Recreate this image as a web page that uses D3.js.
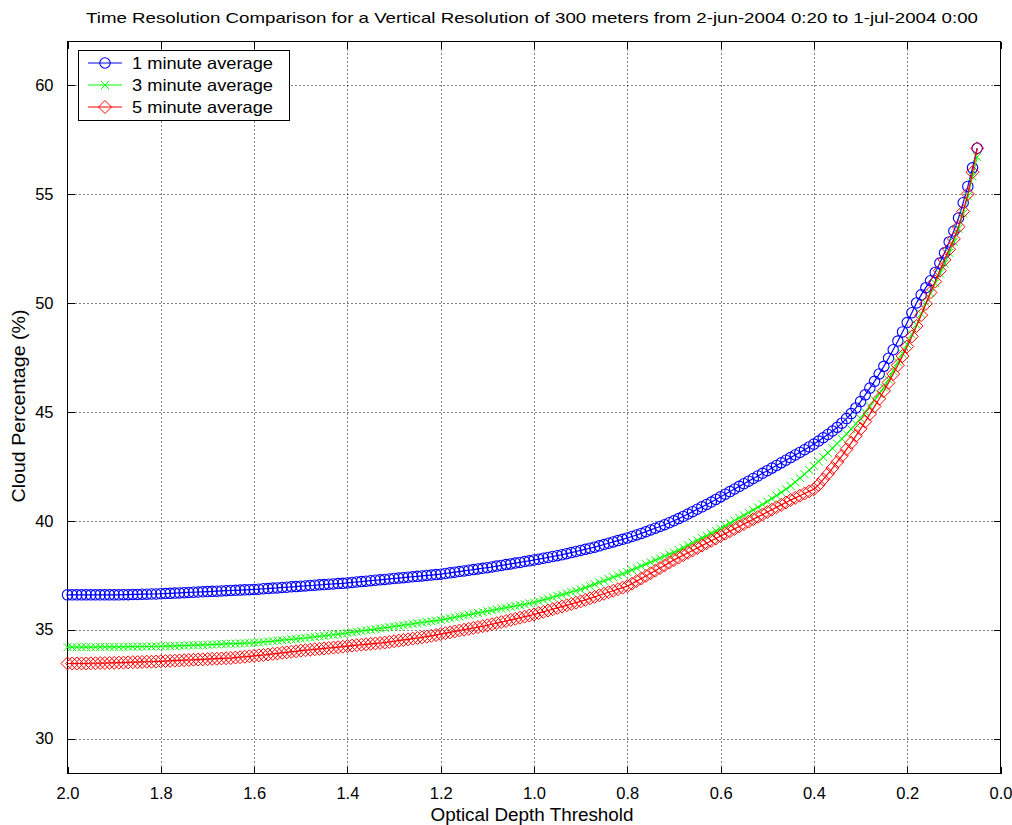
<!DOCTYPE html>
<html>
<head>
<meta charset="utf-8">
<script src="https://cdn.jsdelivr.net/npm/d3@7"></script>
<style>
  html, body { margin: 0; padding: 0; background: #fff; }
  svg { display: block; }
  text { font-family: "Liberation Sans", Arial, Helvetica, sans-serif; fill: #000; }
</style>
</head>
<body>
<svg id="chart" width="1012" height="825"></svg>
<script>
// Optical depth thresholds (x), from 2.00 down to 0.05
const thresholds = [
2.00,1.99,1.98,1.97,1.96,1.95,1.94,1.93,1.92,1.91,1.90,
1.89,1.88,1.87,1.86,1.85,1.84,1.83,1.82,1.81,1.80,
1.79,1.78,1.77,1.76,1.75,1.74,1.73,1.72,1.71,1.70,
1.69,1.68,1.67,1.66,1.65,1.64,1.63,1.62,1.61,1.60,
1.59,1.58,1.57,1.56,1.55,1.54,1.53,1.52,1.51,1.50,
1.49,1.48,1.47,1.46,1.45,1.44,1.43,1.42,1.41,1.40,
1.39,1.38,1.37,1.36,1.35,1.34,1.33,1.32,1.31,1.30,
1.29,1.28,1.27,1.26,1.25,1.24,1.23,1.22,1.21,1.20,
1.19,1.18,1.17,1.16,1.15,1.14,1.13,1.12,1.11,1.10,
1.09,1.08,1.07,1.06,1.05,1.04,1.03,1.02,1.01,1.00,
0.99,0.98,0.97,0.96,0.95,0.94,0.93,0.92,0.91,0.90,
0.89,0.88,0.87,0.86,0.85,0.84,0.83,0.82,0.81,0.80,
0.79,0.78,0.77,0.76,0.75,0.74,0.73,0.72,0.71,0.70,
0.69,0.68,0.67,0.66,0.65,0.64,0.63,0.62,0.61,0.60,
0.59,0.58,0.57,0.56,0.55,0.54,0.53,0.52,0.51,0.50,
0.49,0.48,0.47,0.46,0.45,0.44,0.43,0.42,0.41,0.40,
0.39,0.38,0.37,0.36,0.35,
0.34,0.33,0.32,0.31,0.30,
0.29,0.28,0.27,0.26,0.25,
0.24,0.23,0.22,0.21,0.20,
0.19,0.18,0.17,0.16,0.15,
0.14,0.13,0.12,0.11,0.10,
0.09,0.08,0.07,0.06,0.05
];

// 1 minute average (%)
const avg1 = [
36.60,36.60,36.60,36.60,36.60,36.60,36.60,36.60,36.60,36.60,36.60,
36.60,36.61,36.61,36.62,36.62,36.63,36.63,36.64,36.64,36.65,
36.66,36.67,36.68,36.69,36.70,36.71,36.72,36.73,36.74,36.75,
36.76,36.77,36.78,36.79,36.80,36.81,36.82,36.83,36.84,36.85,
36.86,36.88,36.89,36.91,36.92,36.94,36.95,36.97,36.98,37.00,
37.01,37.03,37.04,37.06,37.07,37.09,37.10,37.12,37.13,37.15,
37.17,37.19,37.21,37.23,37.25,37.27,37.29,37.31,37.33,37.35,
37.37,37.39,37.41,37.43,37.45,37.47,37.49,37.51,37.53,37.55,
37.58,37.61,37.64,37.67,37.70,37.73,37.76,37.79,37.82,37.85,
37.88,37.92,37.95,37.99,38.02,38.06,38.09,38.13,38.16,38.20,
38.24,38.28,38.32,38.36,38.40,38.44,38.49,38.54,38.59,38.64,
38.69,38.74,38.79,38.85,38.91,38.97,39.03,39.09,39.15,39.21,
39.28,39.35,39.42,39.50,39.58,39.66,39.74,39.82,39.91,40.00,
40.10,40.20,40.31,40.42,40.53,40.64,40.75,40.86,40.98,41.10,
41.22,41.34,41.46,41.58,41.70,41.82,41.94,42.06,42.18,42.30,
42.42,42.54,42.66,42.78,42.90,43.02,43.14,43.26,43.39,43.52,
43.66,43.81,43.96,44.12,44.29,
44.48,44.69,44.92,45.18,45.47,
45.78,46.09,46.40,46.74,47.09,
47.46,47.85,48.25,48.67,49.10,
49.55,50.00,50.37,50.70,51.02,
51.40,51.83,52.30,52.80,53.30,
53.90,54.60,55.35,56.20,57.10
];

// 3 minute average (%)
const avg3 = [
34.20,34.20,34.20,34.20,34.20,34.20,34.20,34.21,34.21,34.21,34.21,
34.21,34.21,34.22,34.22,34.22,34.23,34.23,34.23,34.24,34.24,
34.25,34.25,34.26,34.27,34.27,34.28,34.29,34.29,34.30,34.31,
34.32,34.33,34.34,34.35,34.36,34.36,34.37,34.38,34.39,34.40,
34.42,34.44,34.46,34.48,34.50,34.52,34.54,34.56,34.58,34.60,
34.62,34.65,34.67,34.70,34.72,34.75,34.77,34.80,34.82,34.85,
34.88,34.91,34.94,34.97,35.00,35.03,35.06,35.09,35.12,35.15,
35.18,35.21,35.24,35.27,35.30,35.33,35.36,35.39,35.42,35.45,
35.49,35.53,35.57,35.61,35.65,35.69,35.73,35.77,35.81,35.85,
35.89,35.93,35.97,36.01,36.05,36.09,36.13,36.17,36.21,36.25,
36.31,36.37,36.43,36.49,36.55,36.61,36.67,36.73,36.79,36.85,
36.93,37.01,37.09,37.17,37.25,37.33,37.41,37.49,37.57,37.65,
37.74,37.83,37.92,38.01,38.10,38.19,38.28,38.37,38.46,38.55,
38.66,38.77,38.88,38.99,39.10,39.21,39.32,39.43,39.54,39.65,
39.77,39.89,40.01,40.13,40.25,40.37,40.49,40.62,40.75,40.88,
41.02,41.16,41.30,41.45,41.60,41.78,41.96,42.14,42.33,42.52,
42.72,42.92,43.12,43.33,43.54,
43.76,43.98,44.21,44.45,44.70,
44.97,45.25,45.54,45.83,46.12,
46.48,46.88,47.28,47.68,48.10,
48.55,49.00,49.50,50.00,50.45,
50.90,51.35,51.80,52.30,52.80,
53.40,54.10,54.90,55.80,56.70
];

// 5 minute average (%)
const avg5 = [
33.45,33.45,33.45,33.45,33.45,33.46,33.46,33.47,33.47,33.48,33.48,
33.49,33.49,33.50,33.51,33.51,33.52,33.53,33.53,33.54,33.55,
33.56,33.57,33.58,33.59,33.60,33.61,33.62,33.63,33.64,33.65,
33.66,33.67,33.68,33.69,33.70,33.72,33.74,33.76,33.78,33.80,
33.82,33.84,33.86,33.89,33.91,33.94,33.96,33.99,34.01,34.04,
34.06,34.08,34.10,34.12,34.14,34.16,34.18,34.20,34.22,34.25,
34.27,34.29,34.31,34.33,34.35,34.37,34.39,34.41,34.44,34.47,
34.50,34.53,34.56,34.59,34.62,34.65,34.68,34.72,34.76,34.80,
34.84,34.88,34.92,34.96,35.00,35.04,35.08,35.12,35.16,35.20,
35.25,35.30,35.35,35.40,35.45,35.50,35.55,35.60,35.65,35.70,
35.76,35.82,35.88,35.94,36.00,36.06,36.12,36.18,36.24,36.30,
36.37,36.44,36.51,36.58,36.65,36.72,36.79,36.86,36.93,37.00,
37.11,37.23,37.35,37.47,37.59,37.71,37.83,37.95,38.08,38.20,
38.31,38.42,38.53,38.64,38.75,38.86,38.97,39.08,39.19,39.30,
39.41,39.52,39.63,39.74,39.85,39.96,40.07,40.18,40.29,40.40,
40.51,40.62,40.73,40.84,40.95,41.05,41.15,41.25,41.35,41.45,
41.65,41.90,42.15,42.42,42.70,
42.98,43.28,43.58,43.90,44.22,
44.55,44.90,45.25,45.60,45.96,
46.34,46.74,47.14,47.56,48.00,
48.46,48.94,49.44,49.96,50.48,
50.98,51.48,51.98,52.46,52.94,
53.50,54.20,55.00,56.00,57.10
];

const seriesNames = ["1 minute average", "3 minute average", "5 minute average"];
const seriesColors = ["#0000ff", "#00ff00", "#ff0000"];
const seriesMarkers = ["circle", "x", "diamond"];
const xTicks = [2.0, 1.8, 1.6, 1.4, 1.2, 1.0, 0.8, 0.6, 0.4, 0.2, 0.0];
const yTicks = [30, 35, 40, 45, 50, 55, 60];
const titleText = "Time Resolution Comparison for a Vertical Resolution of 300 meters from 2-jun-2004 0:20 to 1-jul-2004 0:00";
const xLabel = "Optical Depth Threshold";
const yLabel = "Cloud Percentage (%)";

const svg = d3.select("#chart");
const L = 67.5, R = 1000.5, T = 41.5, B = 773.5;

const x = d3.scaleLinear().domain([2.0, 0.0]).range([L, R]);
const y = d3.scaleLinear().domain([28.4, 62]).range([B, T]);

// grid
const grid = svg.append("g");
grid.selectAll("line.vx").data(xTicks.slice(1, -1)).join("line")
  .attr("x1", d => Math.round(x(d)) + 0.5).attr("x2", d => Math.round(x(d)) + 0.5)
  .attr("y1", T).attr("y2", B)
  .attr("stroke", "#000").attr("stroke-width", 1).attr("stroke-dasharray", "1,3");
grid.selectAll("line.hy").data(yTicks).join("line")
  .attr("y1", d => Math.round(y(d)) + 0.5).attr("y2", d => Math.round(y(d)) + 0.5)
  .attr("x1", L).attr("x2", R)
  .attr("stroke", "#000").attr("stroke-width", 1).attr("stroke-dasharray", "1,3");

// axes (ticks inward)
const fmtX = d3.format(".1f");
const axB = d3.axisBottom(x).tickValues(xTicks).tickFormat(fmtX).tickSizeInner(-7).tickSizeOuter(0).tickPadding(14);
const axT = d3.axisTop(x).tickValues(xTicks).tickFormat("").tickSizeInner(-7).tickSizeOuter(0);
const axL = d3.axisLeft(y).tickValues(yTicks).tickFormat(d3.format("d")).tickSizeInner(-7).tickSizeOuter(0).tickPadding(14);
const axR = d3.axisRight(y).tickValues(yTicks).tickFormat("").tickSizeInner(-7).tickSizeOuter(0);

function styleAxis(g) {
  g.select(".domain").remove();
  g.selectAll("line").attr("stroke", "#000").attr("shape-rendering", "crispEdges");
  g.selectAll("text").attr("font-size", 16.5).attr("font-family", "Liberation Sans, Arial, sans-serif").attr("fill", "#000");
}
svg.append("g").attr("transform", `translate(0,${B})`).call(axB).call(styleAxis);
svg.append("g").attr("transform", `translate(0,${T})`).call(axT).call(styleAxis);
svg.append("g").attr("transform", `translate(${L},0)`).call(axL).call(styleAxis);
svg.append("g").attr("transform", `translate(${R},0)`).call(axR).call(styleAxis);

// frame
svg.append("rect").attr("x", L).attr("y", T).attr("width", R - L).attr("height", B - T)
  .attr("fill", "none").attr("stroke", "#000").attr("stroke-width", 1).attr("shape-rendering", "crispEdges");

// markers
function drawMarker(g, type, cx, cy, color) {
  if (type === "circle") {
    g.append("circle").attr("cx", cx).attr("cy", cy).attr("r", 5.2)
      .attr("fill", "none").attr("stroke", color).attr("stroke-width", 1.1);
  } else if (type === "x") {
    const s = 4;
    g.append("path").attr("d", `M${cx - s},${cy - s}L${cx + s},${cy + s}M${cx - s},${cy + s}L${cx + s},${cy - s}`)
      .attr("fill", "none").attr("stroke", color).attr("stroke-width", 1);
  } else {
    const s = 6.5;
    g.append("path").attr("d", `M${cx},${cy - s}L${cx + s},${cy}L${cx},${cy + s}L${cx - s},${cy}Z`)
      .attr("fill", "none").attr("stroke", color).attr("stroke-width", 1);
  }
}

const allSeries = [avg1, avg3, avg5];
const line = d3.line().x(d => x(d[0])).y(d => y(d[1]));
allSeries.forEach((vals, i) => {
  const pts = thresholds.map((t, j) => [t, vals[j]]);
  const g = svg.append("g");
  g.append("path").datum(pts).attr("d", line)
    .attr("fill", "none").attr("stroke", seriesColors[i]).attr("stroke-width", 1.2);
  pts.forEach(p => drawMarker(g, seriesMarkers[i], x(p[0]), y(p[1]), seriesColors[i]));
});

// title
svg.append("text").attr("x", 532).attr("y", 23).attr("text-anchor", "middle")
  .attr("font-size", 15).attr("textLength", 892).attr("lengthAdjust", "spacingAndGlyphs")
  .text(titleText);

// axis labels
svg.append("text").attr("x", 532).attr("y", 821).attr("text-anchor", "middle")
  .attr("font-size", 17.5).attr("textLength", 203).attr("lengthAdjust", "spacingAndGlyphs").text(xLabel);
svg.append("text").attr("transform", "translate(25,406) rotate(-90)").attr("text-anchor", "middle")
  .attr("font-size", 17.5).attr("textLength", 193).attr("lengthAdjust", "spacingAndGlyphs").text(yLabel);

// legend
const lg = svg.append("g");
lg.append("rect").attr("x", 78.5).attr("y", 50.5).attr("width", 211).attr("height", 70)
  .attr("fill", "#fff").attr("stroke", "#000").attr("stroke-width", 1).attr("shape-rendering", "crispEdges");
seriesNames.forEach((name, i) => {
  const cy = 63 + i * 22;
  lg.append("line").attr("x1", 88).attr("x2", 122).attr("y1", cy).attr("y2", cy)
    .attr("stroke", seriesColors[i]).attr("stroke-width", 1);
  drawMarker(lg, seriesMarkers[i], 105, cy, seriesColors[i]);
  lg.append("text").attr("x", 132).attr("y", cy + 6).attr("font-size", 16.5)
    .attr("textLength", 141).attr("lengthAdjust", "spacingAndGlyphs").text(name);
});
</script>
</body>
</html>
